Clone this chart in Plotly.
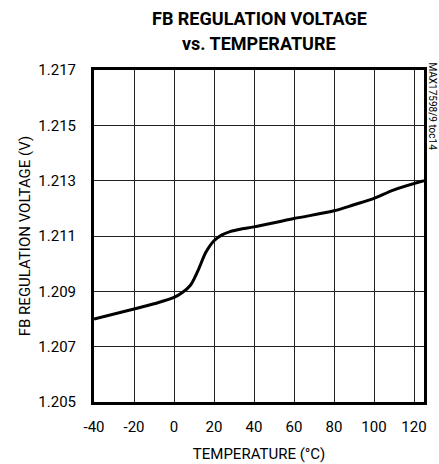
import plotly.graph_objects as go

temperature = [-40, -20, -10, 0, 4, 8, 12, 16, 20, 24, 28, 34, 40, 60, 80, 90, 100, 110, 125]
voltage = [1.2080, 1.20836, 1.20855, 1.20878, 1.20895, 1.20920, 1.20975, 1.21042, 1.21083,
           1.21104, 1.21116, 1.21126, 1.21133, 1.21163, 1.21191, 1.21213,
           1.21236, 1.21267, 1.2130]

x_ticks = [-40, -20, 0, 20, 40, 60, 80, 100, 120]
y_ticks = [1.205, 1.207, 1.209, 1.211, 1.213, 1.215, 1.217]

title_lines = ["FB REGULATION VOLTAGE", "vs. TEMPERATURE"]

FONT = "Roboto, Liberation Sans, sans-serif"

fig = go.Figure()
fig.add_trace(go.Scatter(x=temperature, y=voltage, mode="lines",
                         line=dict(color="black", width=3, shape="spline", smoothing=1.0),
                         hoverinfo="skip", showlegend=False))

fig.update_layout(
    width=439, height=464,
    margin=dict(l=94, r=15, t=70, b=62),
    paper_bgcolor="white", plot_bgcolor="white",
    font=dict(family=FONT, size=15, color="black"),
)
fig.update_xaxes(range=[-40, 125], tickvals=x_ticks, ticktext=[str(v) for v in x_ticks],
                 showgrid=True, gridcolor="#222", gridwidth=1,
                 showline=True, linecolor="black", linewidth=3, mirror=True,
                 ticks="outside", ticklen=9, tickcolor="rgba(0,0,0,0)",
                 zeroline=False, automargin=False,
                 title=dict(text="TEMPERATURE (°C)", font=dict(size=15), standoff=14))
fig.update_yaxes(range=[1.205, 1.217], tickvals=y_ticks, ticktext=[f"{v:.3f}" for v in y_ticks],
                 showgrid=True, gridcolor="#222", gridwidth=1,
                 showline=True, linecolor="black", linewidth=3, mirror=True,
                 ticks="outside", ticklen=12, tickcolor="rgba(0,0,0,0)",
                 zeroline=False, automargin=False,
                 title=dict(text="FB REGULATION VOLTAGE (V)", font=dict(size=15), standoff=5))
for i, line in enumerate(title_lines):
    fig.add_annotation(text=f"<b>{line}</b>", xref="paper", yref="paper", x=0.5, y=1.0,
                       xanchor="center", yanchor="middle", yshift=52 - 25 * i,
                       showarrow=False, font=dict(family=FONT, size=18, color="black"))
fig.add_annotation(text="MAX17598/9 toc14", textangle=90, xref="paper", yref="paper",
                   x=1.0, y=1.0, xanchor="left", yanchor="top", xshift=1, yshift=10,
                   showarrow=False, font=dict(family=FONT, size=10, color="black"))

fig.write_html("out.html", config={"displayModeBar": False},
               post_script="document.body.style.margin='0';")
